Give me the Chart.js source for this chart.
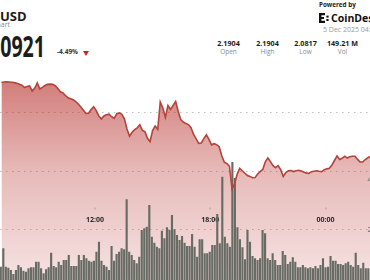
<!DOCTYPE html>
<html>
<head>
<meta charset="utf-8">
<script src="https://cdn.jsdelivr.net/npm/chart.js@4.4.1/dist/chart.umd.min.js"></script>
<style>
  html, body { margin: 0; padding: 0; }
  body {
    width: 370px; height: 280px; overflow: hidden; position: relative;
    background: #fff; font-family: 'Open Sans', sans-serif; color: #1c1c1c;
  }
  .t { position: absolute; white-space: nowrap; line-height: 1; }
  .b { font-weight: 700; }
  .stat { width: 44px; text-align: center; }
  #wrap { position: absolute; left: 0; top: 60px; width: 400px; height: 240px; }
</style>
</head>
<body>
  <div class="t b" style="left:0; top:9.5px; font-size:13px;">USD</div>
  <div class="t" style="right:360px; top:21px; font-size:7px; color:#8a8a8a;">Chart</div>
  <div class="t b" style="right:325px; top:32px; font-size:28px; transform:scaleX(0.7); transform-origin:right;">2.0921</div>
  <div class="t b" style="left:57px; top:49.2px; font-size:6.5px; color:#333;">-4.49%</div>
  <div style="position:absolute; left:83px; top:51px; width:0; height:0; border-left:3.5px solid transparent; border-right:3.5px solid transparent; border-top:5px solid #c62828;"></div>

  <div class="t b" style="left:319px; top:2.2px; font-size:6.3px; color:#222;">Powered by</div>
  <svg style="position:absolute; left:319px; top:13px;" width="10" height="10" viewBox="0 0 10 10">
    <path d="M0 0H6V2.2H2.4V3.9H5V6.1H2.4V7.8H6V10H0Z" fill="#111"/>
    <rect x="7.4" y="2.6" width="2.2" height="2" fill="#111"/>
    <rect x="7.4" y="6" width="2.2" height="2" fill="#111"/>
  </svg>
  <div class="t b" style="left:331px; top:12.8px; font-size:10.5px; color:#111;">CoinDesk</div>
  <div class="t" style="left:323px; top:26px; font-size:7px; color:#9a9a9a;">5 Dec 2025 04:00 UTC</div>

  <div class="t b stat" style="left:206.5px; top:40.3px; font-size:7.2px;">2.1904</div>
  <div class="t b stat" style="left:245.5px; top:40.3px; font-size:7.2px;">2.1904</div>
  <div class="t b stat" style="left:283.5px; top:40.3px; font-size:7.2px;">2.0817</div>
  <div class="t b stat" style="left:320.5px; top:40.3px; font-size:7.2px;">149.21 M</div>
  <div class="t stat" style="left:206.5px; top:48.7px; font-size:6.5px; color:#8a8a8a;">Open</div>
  <div class="t stat" style="left:245.5px; top:48.7px; font-size:6.5px; color:#8a8a8a;">High</div>
  <div class="t stat" style="left:283.5px; top:48.7px; font-size:6.5px; color:#8a8a8a;">Low</div>
  <div class="t stat" style="left:320.5px; top:48.7px; font-size:6.5px; color:#8a8a8a;">Vol</div>

  <div id="wrap"><canvas id="chart" width="400" height="240"></canvas></div>

<script>
// price, sampled every 8 minutes from 07:08
const priceStart = '07:08';
const priceStepMin = 8;
const prices = [
  2.1900, 2.1905, 2.1908, 2.1905, 2.1902, 2.1899, 2.1892, 2.1883, 2.1872, 2.1849,
  2.1860, 2.1866, 2.1814, 2.1843, 2.1895, 2.1834, 2.1851, 2.1869, 2.1881, 2.1884,
  2.1881, 2.1867, 2.1839, 2.1805, 2.1795, 2.1768, 2.1744, 2.1735, 2.1726, 2.1705,
  2.1682, 2.1651, 2.1619, 2.1586, 2.1587, 2.1625, 2.1653, 2.1615, 2.1560, 2.1529,
  2.1560, 2.1573, 2.1578, 2.1552, 2.1536, 2.1582, 2.1591, 2.1577, 2.1530, 2.1427,
  2.1354, 2.1394, 2.1420, 2.1439, 2.1470, 2.1413, 2.1400, 2.1332, 2.1298, 2.1412,
  2.1458, 2.1423, 2.1702, 2.1641, 2.1545, 2.1666, 2.1626, 2.1667, 2.1707, 2.1605,
  2.1522, 2.1498, 2.1482, 2.1472, 2.1440, 2.1372, 2.1326, 2.1281, 2.1285, 2.1329,
  2.1368, 2.1321, 2.1266, 2.1278, 2.1268, 2.1247, 2.1155, 2.1089, 2.1075, 2.1048,
  2.0817, 2.0870, 2.0966, 2.1026, 2.1003, 2.0977, 2.0955, 2.0945, 2.0931, 2.0933,
  2.0970, 2.0993, 2.1016, 2.1093, 2.1133, 2.1095, 2.1055, 2.1034, 2.1054, 2.1013,
  2.0944, 2.0983, 2.1003, 2.1004, 2.0994, 2.1003, 2.1008, 2.0999, 2.0990, 2.0978,
  2.0976, 2.0993, 2.0998, 2.1003, 2.0998, 2.0994, 2.1013, 2.1022, 2.1027, 2.1061,
  2.1107, 2.1153, 2.1118, 2.1129, 2.1151, 2.1132, 2.1146, 2.1150, 2.1150, 2.1118,
  2.1092, 2.1092, 2.1117, 2.1135, 2.1148
];

// volume in millions
const volumeStart = '07:06';
const volumeStepMin = 7.86;
const volumes = [
  0.53, 1.27, 0.53, 0.49, 0.40, 0.24, 0.40, 0.60, 0.51, 0.37,
  0.33, 0.47, 0.51, 0.51, 0.73, 0.73, 0.47, 0.27, 0.43, 0.51,
  1.09, 0.56, 0.51, 0.73, 0.60, 0.80, 0.80, 1.00, 0.56, 0.56,
  0.56, 1.00, 0.80, 1.00, 0.87, 0.77, 0.73, 0.77, 1.13, 1.53,
  0.77, 0.60, 0.53, 0.40, 1.36, 0.77, 1.04, 1.13, 1.27, 1.23,
  3.23, 1.13, 1.00, 0.80, 0.67, 0.93, 2.00, 2.07, 2.13, 3.00,
  1.73, 1.49, 1.33, 1.27, 1.97, 1.67, 2.11, 2.00, 2.60, 2.03,
  1.80, 1.60, 1.76, 1.49, 1.36, 1.36, 1.84, 1.33, 0.93, 1.63,
  1.63, 1.07, 1.07, 1.13, 1.40, 1.40, 2.64, 1.47, 4.13, 1.73,
  1.47, 1.33, 4.72, 4.08, 2.11, 1.63, 1.31, 0.83, 2.00, 1.53,
  0.96, 0.87, 0.80, 0.87, 2.00, 1.87, 0.87, 0.80, 1.07, 0.80,
  0.60, 0.60, 1.16, 1.00, 0.64, 0.73, 0.91, 0.73, 0.51, 0.51,
  0.60, 0.51, 0.47, 0.51, 0.47, 0.56, 0.47, 0.60, 0.87, 0.51,
  0.53, 0.96, 0.77, 0.77, 0.64, 0.64, 0.60, 0.67, 0.73, 0.60,
  0.53, 1.09, 0.60, 0.47, 0.69, 0.47, 0.47
];

const timeTicks = ['12:00', '18:00', '00:00'];
const priceGrid = [2.16, 2.10, 2.04];
const volumeTicks = [2, 4];

// visible window
const viewStartMin = 423.5;
const viewEndMin = 1582;
const priceMin = 1.9688;
const priceMax = 2.2129;
const volumeMin = -0.8;
const volumeMax = 8.8;

function toMin(hhmm) {
  const [h, m] = hhmm.split(':').map(Number);
  return h * 60 + m;
}

// ticks after midnight belong to the next day
let prevTick = 0;
const tickMinutes = timeTicks.map(s => {
  let v = toMin(s);
  while (v < prevTick) v += 1440;
  prevTick = v;
  return v;
});

const priceData = prices.map((p, i) => ({ x: toMin(priceStart) + i * priceStepMin, y: p }));
const volumeData = volumes.map((v, i) => ({ x: toMin(volumeStart) + i * volumeStepMin, y: v }));

// time labels sit inside the plot, above the bars but over the area fill
const axisLabels = {
  id: 'axisLabels',
  beforeDatasetsDraw(chart) {
    const { ctx, chartArea, scales } = chart;
    ctx.save();
    ctx.font = 'bold 7px "Open Sans"';
    ctx.textAlign = 'center';
    ctx.textBaseline = 'middle';
    tickMinutes.forEach((t, i) => {
      const x = scales.x.getPixelForValue(t);
      ctx.fillStyle = '#a0a0a0';
      ctx.fillRect(Math.round(x) - 0.5, chartArea.top + 147.5, 1, 2);
      ctx.fillStyle = '#2b2b2b';
      ctx.fillText(timeTicks[i], x, chartArea.top + 159.5);
    });
    // volume scale labels at the right edge
    ctx.font = '7px "Open Sans"';
    ctx.fillStyle = '#666';
    ctx.textAlign = 'left';
    volumeTicks.forEach(v => {
      ctx.fillText(v + 'M', chartArea.right - 3.5, scales.y1.getPixelForValue(v));
    });
    ctx.restore();
  }
};

function areaFill(context) {
  const { ctx, chartArea } = context.chart;
  if (!chartArea) return 'rgba(180,40,35,0.3)';
  const g = ctx.createLinearGradient(0, chartArea.top, 0, chartArea.bottom);
  g.addColorStop(0, 'rgba(180,40,35,0.62)');
  g.addColorStop(0.09, 'rgba(180,40,35,0.6)');
  g.addColorStop(0.46, 'rgba(180,40,35,0.32)');
  g.addColorStop(0.92, 'rgba(180,40,35,0.13)');
  g.addColorStop(1, 'rgba(180,40,35,0.11)');
  return g;
}

new Chart(document.getElementById('chart'), {
  type: 'bar',
  data: {
    datasets: [
      {
        type: 'line',
        label: 'Price',
        data: priceData,
        yAxisID: 'y',
        borderColor: '#b3433c',
        borderWidth: 1.6,
        pointRadius: 0,
        tension: 0,
        fill: 'start',
        backgroundColor: areaFill,
        order: 1
      },
      {
        type: 'bar',
        label: 'Volume',
        data: volumeData,
        yAxisID: 'y1',
        backgroundColor: '#676b63',
        barPercentage: 0.85,
        categoryPercentage: 1,
        order: 2
      }
    ]
  },
  options: {
    responsive: false,
    animation: false,
    events: [],
    layout: { padding: 0 },
    plugins: {
      legend: { display: false },
      tooltip: { enabled: false },
      filler: { drawTime: 'beforeDatasetsDraw' }
    },
    scales: {
      x: {
        type: 'linear',
        display: false,
        offset: false,
        min: viewStartMin,
        max: viewEndMin
      },
      y: {
        position: 'left',
        min: priceMin,
        max: priceMax,
        afterBuildTicks: s => { s.ticks = priceGrid.map(v => ({ value: v })); },
        afterFit: s => { s.width = 0; },
        grid: { color: 'rgba(140,140,140,0.55)', lineWidth: 1, drawTicks: false },
        border: { display: false, dash: [1.5, 4.5] },
        ticks: { display: false }
      },
      y1: {
        position: 'right',
        min: volumeMin,
        max: volumeMax,
        afterBuildTicks: s => { s.ticks = volumeTicks.map(v => ({ value: v })); },
        afterFit: s => { s.width = 29; },
        grid: { display: false, drawTicks: false },
        border: { display: false },
        ticks: { display: false }
      }
    }
  },
  plugins: [axisLabels]
});
</script>
</body>
</html>
